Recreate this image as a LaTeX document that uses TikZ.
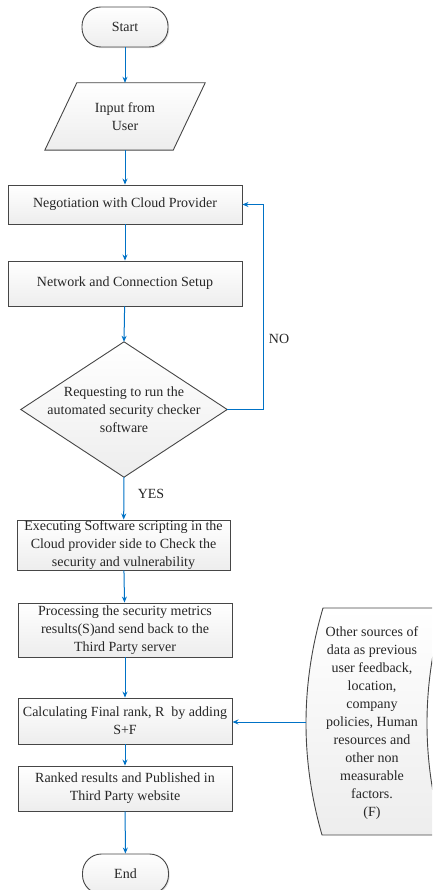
\documentclass[tikz,border=0pt]{standalone}
\usepackage{fontspec}
\setmainfont{Liberation Serif}
\usetikzlibrary{arrows.meta,shadows}
\definecolor{flowblue}{RGB}{0,114,198}
\definecolor{edgegray}{RGB}{70,70,70}
\begin{document}
\begin{tikzpicture}[x=1pt,y=-1pt,
  txt/.style={font=\fontsize{14}{18}\selectfont, text=black!85, align=center, inner sep=0pt},
  boxstyle/.style={txt, draw=edgegray, line width=0.9pt, top color=white, bottom color=gray!14,
     drop shadow={shadow xshift=1.2pt, shadow yshift=-1.2pt, opacity=0.25}},
  shapefill/.style={draw=edgegray, line width=0.9pt, top color=white, bottom color=gray!14},
  termstyle/.style={boxstyle, rounded corners=19pt, minimum width=86pt, minimum height=40pt},
  arr/.style={draw=flowblue, line width=1pt, -{Stealth[length=6pt,width=5pt]}},
  lbl/.style={font=\fontsize{14}{16}\selectfont, text=black!85, inner sep=0pt}
]
\useasboundingbox (0,0) rectangle (432,890);
\clip (0,0) rectangle (432,890);

% terminals and boxes
\node[termstyle] (start) at (125,27) {Start};

\node[txt, minimum width=128pt, minimum height=67pt] (input) at (125,116.5) {};
\shadedraw[shapefill] ([xshift=16pt]input.north west) -- ([xshift=16pt]input.north east)
  -- ([xshift=-16pt]input.south east) -- ([xshift=-16pt]input.south west) -- cycle;
\node[txt] (inputtxt) at (input.center) {Input from\\User};

\node[boxstyle, minimum width=234pt, minimum height=39pt] (neg) at (125,204.5) {Negotiation with Cloud Provider};
\node[boxstyle, minimum width=234pt, minimum height=45pt] (net) at (125,283.5) {Network and Connection Setup};

\node[txt, minimum width=206pt, minimum height=135pt] (dia) at (124,409.5) {};
\shadedraw[shapefill] (dia.north) -- (dia.east) -- (dia.south) -- (dia.west) -- cycle;
\node[txt] (diatxt) at (dia.center) {Requesting to run the\\automated security checker\\software};

\node[boxstyle, minimum width=213pt, minimum height=50pt] (exec) at (123.5,545)
  {Executing Software scripting in the\\Cloud provider side to Check the\\security and vulnerability};
\node[boxstyle, minimum width=214pt, minimum height=54pt] (proc) at (125,630)
  {Processing the security metrics\\results(S)and send back to the\\Third Party server};
\node[boxstyle, minimum width=214pt, minimum height=46pt] (calc) at (125,721)
  {Calculating Final rank, R~ by adding\\S+F};
\node[boxstyle, minimum width=214pt, minimum height=45pt] (rank) at (125,788.5)
  {Ranked results and Published in\\Third Party website};
\node[termstyle] (end) at (125.5,874) {End};

% stored-data shape on the right
\shadedraw[shapefill] (323,608) -- (444,608) .. controls (421.7,683.7) and (421.3,759.3) .. (443,835)
  -- (322,835) .. controls (300.3,759.3) and (300.7,683.7) .. (323,608) -- cycle;
\node[txt] (fsrcnode) at (372,723) {Other sources of\\data as previous\\user feedback,\\location,\\company\\policies, Human\\resources and\\other non\\measurable\\factors.\\(F)};
\coordinate (fsrc) at (306,722);

% connectors
\draw[arr] (start) -- (input);
\draw[arr] (input) -- (neg);
\draw[arr] (neg) -- (net);
\draw[arr] (net) -- (dia.north);
\draw[arr] (dia.south) -- (exec);
\draw[arr] (exec) -- (proc);
\draw[arr] (proc) -- (calc);
\draw[arr] (calc) -- (rank);
\draw[arr] (rank) -- (end);
\draw[arr] (dia.east) -- ++(36,0) |- (neg.east);
\draw[arr] (fsrc) -- (calc.east |- fsrc);

% labels
\node[lbl] (nolab) at (279,339) {NO};
\node[lbl] (yeslab) at (151,494) {YES};
\end{tikzpicture}
\end{document}
